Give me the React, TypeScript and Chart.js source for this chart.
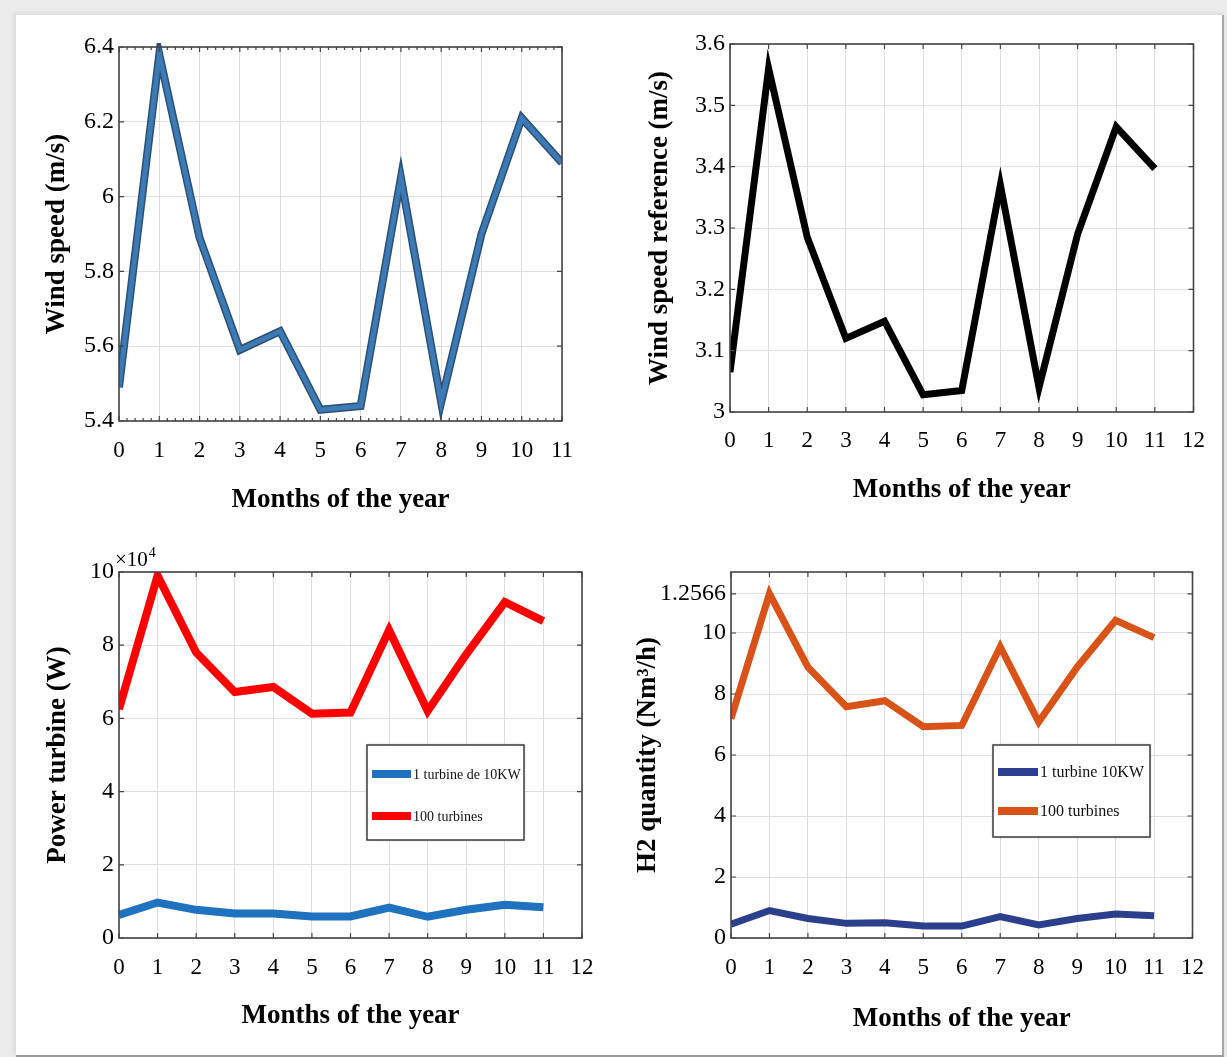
import React, { useEffect, useRef } from 'react';
import { Chart, registerables } from 'chart.js';

Chart.register(...registerables);

// ---------------- data ----------------
const months = [0, 1, 2, 3, 4, 5, 6, 7, 8, 9, 10, 11];

const windSpeed = [5.49, 6.38, 5.89, 5.59, 5.64, 5.43, 5.44, 6.05, 5.45, 5.9, 6.21, 6.09];
const windSpeedRef = [3.065, 3.56, 3.285, 3.12, 3.148, 3.028, 3.035, 3.37, 3.04, 3.29, 3.465, 3.397];

const powerOneTurbine = [6300, 9700, 7700, 6700, 6700, 5900, 5900, 8300, 5800, 7700, 9100, 8400];
const powerHundredTurbines = [62500, 99000, 78000, 67200, 68600, 61300, 61600, 84100, 62000, 77500, 91800, 86600];

const h2OneTurbine = [0.45, 0.9, 0.64, 0.48, 0.5, 0.39, 0.39, 0.7, 0.43, 0.64, 0.79, 0.73];
const h2HundredTurbines = [7.19, 11.29, 8.88, 7.58, 7.78, 6.93, 6.97, 9.55, 7.08, 8.88, 10.42, 9.85];

const xTicks11 = [0, 1, 2, 3, 4, 5, 6, 7, 8, 9, 10, 11];
const xTicks12 = [0, 1, 2, 3, 4, 5, 6, 7, 8, 9, 10, 11, 12];

const yTicks1 = [5.4, 5.6, 5.8, 6.0, 6.2, 6.4];
const yLabels1 = ['5.4', '5.6', '5.8', '6', '6.2', '6.4'];

const yTicks2 = [3.0, 3.1, 3.2, 3.3, 3.4, 3.5, 3.6];
const yLabels2 = ['3', '3.1', '3.2', '3.3', '3.4', '3.5', '3.6'];

const yTicks3 = [0, 20000, 40000, 60000, 80000, 100000];
const yLabels3 = ['0', '2', '4', '6', '8', '10'];
const powerExponentBase = '×10';
const powerExponent = '4';

const yTicks4 = [0, 2, 4, 6, 8, 10, 11.28];
const yLabels4 = ['0', '2', '4', '6', '8', '10', '1.2566'];

const xTitle = 'Months of the year';

// ---------------- plugins ----------------
const boxPlugin = {
  id: 'mBox',
  afterDatasetsDraw(chart: any, _args: any, opts: any) {
    const { ctx, chartArea: a, scales } = chart;
    ctx.save();
    ctx.strokeStyle = '#444444';
    ctx.lineWidth = 1.6;
    ctx.strokeRect(a.left, a.top, a.right - a.left, a.bottom - a.top);
    ctx.lineWidth = 1.2;
    const tl = 5;
    ctx.beginPath();
    scales.x.ticks.forEach((t: any) => {
      const px = scales.x.getPixelForValue(t.value);
      ctx.moveTo(px, a.bottom);
      ctx.lineTo(px, a.bottom - tl);
      ctx.moveTo(px, a.top);
      ctx.lineTo(px, a.top + tl);
    });
    scales.y.ticks.forEach((t: any) => {
      const py = scales.y.getPixelForValue(t.value);
      ctx.moveTo(a.left, py);
      ctx.lineTo(a.left + tl, py);
      ctx.moveTo(a.right, py);
      ctx.lineTo(a.right - tl, py);
    });
    if (opts && opts.minorX) {
      const xs = scales.x.ticks.map((t: any) => t.value);
      for (let i = 0; i < xs.length - 1; i++) {
        for (let k = 1; k < opts.minorX; k++) {
          const v = xs[i] + ((xs[i + 1] - xs[i]) * k) / opts.minorX;
          const px = scales.x.getPixelForValue(v);
          ctx.moveTo(px, a.bottom);
          ctx.lineTo(px, a.bottom - 3);
          ctx.moveTo(px, a.top);
          ctx.lineTo(px, a.top + 3);
        }
      }
    }
    ctx.stroke();
    ctx.restore();
  },
};

const outlinePlugin = {
  id: 'mOutline',
  beforeDatasetDraw(chart: any, args: any, opts: any) {
    if (!opts || !opts.color) return;
    const pts = args.meta.data;
    if (!pts || !pts.length) return;
    const { ctx, chartArea: a } = chart;
    ctx.save();
    ctx.beginPath();
    ctx.rect(a.left, a.top - 4, a.right - a.left, a.bottom - a.top + 8);
    ctx.clip();
    ctx.beginPath();
    pts.forEach((p: any, i: number) => (i ? ctx.lineTo(p.x, p.y) : ctx.moveTo(p.x, p.y)));
    ctx.strokeStyle = opts.color;
    ctx.lineWidth = opts.width;
    ctx.lineJoin = 'miter';
    ctx.stroke();
    ctx.restore();
  },
};

const legendBoxPlugin = {
  id: 'mLegend',
  afterDraw(chart: any, _args: any, opts: any) {
    if (!opts || !opts.show) return;
    const { ctx, chartArea: a } = chart;
    const x0 = a.left + opts.dx;
    const y0 = a.top + opts.dy;
    ctx.save();
    ctx.fillStyle = '#ffffff';
    ctx.shadowColor = 'rgba(0,0,0,0.25)';
    ctx.shadowBlur = 3;
    ctx.fillRect(x0, y0, opts.w, opts.h);
    ctx.shadowColor = 'transparent';
    ctx.strokeStyle = '#3c3c3c';
    ctx.lineWidth = 1.5;
    ctx.strokeRect(x0, y0, opts.w, opts.h);
    chart.data.datasets.forEach((ds: any, i: number) => {
      const y = y0 + opts.rows[i];
      ctx.beginPath();
      ctx.moveTo(x0 + opts.sx0, y);
      ctx.lineTo(x0 + opts.sx1, y);
      ctx.strokeStyle = ds.borderColor;
      ctx.lineWidth = opts.lineWidth;
      ctx.stroke();
      ctx.fillStyle = '#111';
      ctx.font = `${opts.fontSize}px "Liberation Serif"`;
      ctx.textBaseline = 'middle';
      ctx.textAlign = 'left';
      ctx.fillText(ds.label, x0 + opts.tx, y + 1);
    });
    ctx.restore();
  },
};

const exponentPlugin = {
  id: 'mExp',
  afterDraw(chart: any, _args: any, opts: any) {
    if (!opts || !opts.base) return;
    const { ctx, chartArea: a } = chart;
    ctx.save();
    ctx.fillStyle = '#000';
    ctx.textBaseline = 'alphabetic';
    ctx.textAlign = 'left';
    ctx.font = '21px "Liberation Serif"';
    const x = a.left - 4;
    const y = a.top - 6;
    ctx.fillText(opts.base, x, y);
    const w = ctx.measureText(opts.base).width;
    ctx.font = '14px "Liberation Serif"';
    ctx.fillText(opts.exp, x + w + 1, y - 9);
    ctx.restore();
  },
};

Chart.register(boxPlugin, outlinePlugin, legendBoxPlugin, exponentPlugin);
Chart.defaults.font.family = '"Liberation Serif", "Times New Roman", serif';

// ---------------- helpers ----------------
const pts = (ys: number[]) => months.map((m, i) => ({ x: m, y: ys[i] }));

const labelFor = (ticks: number[], labels: string[]) => (v: any) => {
  const i = ticks.findIndex((t) => Math.abs(t - Number(v)) < 1e-6);
  return i >= 0 ? labels[i] : '';
};

type Spec = {
  left: number;
  top: number;
  width: number;
  height: number;
  padTop: number;
  padRight: number;
  yWidth: number;
  xHeight: number;
  xMax: number;
  xTicks: number[];
  yMin: number;
  yMax: number;
  yTicks: number[];
  yLabels: string[];
  yTitle: string;
  yTitlePad: number;
  xTitlePad: number;
  xTickPad: number;
  datasets: any[];
  plugins: any;
};

const TITLE_SIZE = 27;

function makeConfig(s: Spec): any {
  return {
    type: 'line',
    data: { datasets: s.datasets },
    options: {
      animation: false,
      responsive: false,
      maintainAspectRatio: false,
      events: [],
      layout: { padding: { top: s.padTop, right: s.padRight, left: 0, bottom: 0 } },
      elements: { point: { radius: 0 }, line: { tension: 0 } },
      scales: {
        x: {
          type: 'linear',
          min: 0,
          max: s.xMax,
          afterBuildTicks: (sc: any) => {
            sc.ticks = s.xTicks.map((v) => ({ value: v }));
          },
          afterFit: (sc: any) => {
            sc.height = s.xHeight;
          },
          ticks: {
            autoSkip: false,
            maxRotation: 0,
            padding: s.xTickPad,
            color: '#000',
            font: { size: 23 },
            callback: (v: any) => String(v),
          },
          grid: { color: '#dedede', drawTicks: false, lineWidth: 1 },
          border: { display: false },
          title: {
            display: true,
            text: xTitle,
            color: '#000',
            font: { size: TITLE_SIZE, weight: 'bold' },
            padding: { top: 0, bottom: s.xTitlePad },
          },
        },
        y: {
          type: 'linear',
          min: s.yMin,
          max: s.yMax,
          afterBuildTicks: (sc: any) => {
            sc.ticks = s.yTicks.map((v) => ({ value: v }));
          },
          afterFit: (sc: any) => {
            sc.width = s.yWidth;
          },
          ticks: {
            autoSkip: false,
            padding: 5,
            color: '#000',
            font: { size: 24 },
            callback: labelFor(s.yTicks, s.yLabels),
          },
          grid: { color: '#dedede', drawTicks: false, lineWidth: 1 },
          border: { display: false },
          title: {
            display: true,
            text: s.yTitle,
            color: '#000',
            font: { size: TITLE_SIZE, weight: 'bold' },
            padding: { top: s.yTitlePad, bottom: 0 },
          },
        },
      },
      plugins: {
        legend: { display: false },
        tooltip: { enabled: false },
        ...s.plugins,
      },
    },
  };
}

function Panel({ spec }: { spec: Spec }) {
  const ref = useRef<HTMLCanvasElement | null>(null);
  useEffect(() => {
    if (!ref.current) return;
    const chart = new Chart(ref.current, makeConfig(spec));
    return () => chart.destroy();
  }, []);
  return (
    <canvas
      ref={ref}
      width={spec.width}
      height={spec.height}
      style={{
        position: 'absolute',
        left: spec.left,
        top: spec.top,
        width: spec.width,
        height: spec.height,
      }}
    />
  );
}

const lineDs = (label: string, ys: number[], color: string, width: number) => ({
  label,
  data: pts(ys),
  borderColor: color,
  backgroundColor: color,
  borderWidth: width,
  borderJoinStyle: 'miter',
  borderCapStyle: 'butt',
  fill: false,
});

const specs: Spec[] = [
  {
    left: 20, top: 20, width: 590, height: 500,
    padTop: 27, padRight: 48, yWidth: 99, xHeight: 99,
    xMax: 11, xTicks: xTicks11,
    yMin: 5.4, yMax: 6.4, yTicks: yTicks1, yLabels: yLabels1,
    yTitle: 'Wind speed (m/s)', yTitlePad: 20.8, xTitlePad: 3.8, xTickPad: 16,
    datasets: [lineDs('Wind speed', windSpeed, '#3b7ab4', 5)],
    plugins: { mBox: { minorX: 5 }, mOutline: { color: '#2c4f73', width: 8 } },
  },
  {
    left: 620, top: 20, width: 600, height: 495,
    padTop: 24, padRight: 26, yWidth: 110, xHeight: 103,
    xMax: 12, xTicks: xTicks12,
    yMin: 3.0, yMax: 3.6, yTicks: yTicks2, yLabels: yLabels2,
    yTitle: 'Wind speed reference (m/s)', yTitlePad: 23.8, xTitlePad: 8.8, xTickPad: 15,
    datasets: [lineDs('Wind speed reference', windSpeedRef, '#000000', 7)],
    plugins: { mBox: {} },
  },
  {
    left: 20, top: 530, width: 590, height: 510,
    padTop: 42, padRight: 28, yWidth: 99, xHeight: 102,
    xMax: 12, xTicks: xTicks12,
    yMin: 0, yMax: 100000, yTicks: yTicks3, yLabels: yLabels3,
    yTitle: 'Power turbine (W)', yTitlePad: 21.8, xTitlePad: 7.8, xTickPad: 16,
    datasets: [
      lineDs('1 turbine de 10KW', powerOneTurbine, '#1f72bf', 8),
      lineDs('100 turbines', powerHundredTurbines, '#ff0000', 8),
    ],
    plugins: {
      mBox: {},
      mExp: { base: powerExponentBase, exp: powerExponent },
      mLegend: { show: true, dx: 248, dy: 173, w: 157, h: 95, rows: [29, 71], sx0: 5, sx1: 44, tx: 46, fontSize: 14, lineWidth: 8 },
    },
  },
  {
    left: 620, top: 530, width: 600, height: 510,
    padTop: 42, padRight: 27, yWidth: 111, xHeight: 102,
    xMax: 12, xTicks: xTicks12,
    yMin: 0, yMax: 12, yTicks: yTicks4, yLabels: yLabels4,
    yTitle: 'H2 quantity (Nm³/h)', yTitlePad: 11.8, xTitlePad: 4.8, xTickPad: 16,
    datasets: [
      lineDs('1 turbine 10KW', h2OneTurbine, '#2b3f8c', 7),
      lineDs('100 turbines', h2HundredTurbines, '#d95319', 7),
    ],
    plugins: {
      mBox: {},
      mLegend: { show: true, dx: 262, dy: 173, w: 157, h: 92, rows: [27, 66], sx0: 5, sx1: 45, tx: 47, fontSize: 16, lineWidth: 8 },
    },
  },
];

export default function App() {
  return (
    <div
      style={{
        position: 'absolute',
        left: 0,
        top: 0,
        width: 1227,
        height: 1057,
        background: '#ebebeb',
        overflow: 'hidden',
      }}
    >
      <div
        style={{
          position: 'absolute',
          left: 16,
          top: 15,
          width: 1206,
          height: 1040,
          background: '#ffffff',
          borderRight: '2px solid #a8a8a8',
          borderBottom: '2px solid #9a9a9a',
          boxShadow: '-2px -2px 5px rgba(0,0,0,0.08)',
        }}
      />
      {specs.map((s, i) => (
        <Panel key={i} spec={s} />
      ))}
    </div>
  );
}
